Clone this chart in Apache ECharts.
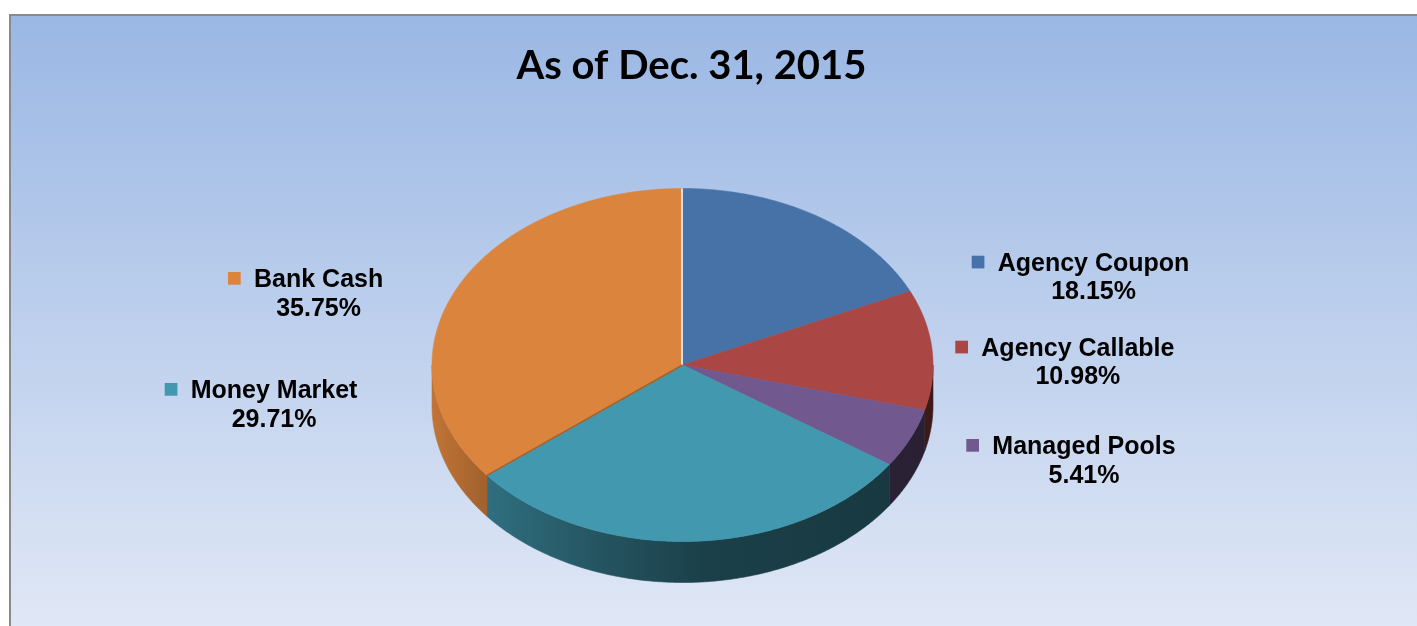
<!DOCTYPE html>
<html>
<head>
<meta charset="utf-8">
<script src="https://cdn.jsdelivr.net/npm/echarts@6/dist/echarts.min.js"></script>
<style>
html,body{margin:0;padding:0;background:#fff;}
#chart{width:1417px;height:626px;}
</style>
</head>
<body>
<div id="chart"></div>
<script>
// ---- data ----
const categories = ['Agency Coupon', 'Agency Callable', 'Managed Pools', 'Money Market', 'Bank Cash'];
const shares = [18.15, 10.98, 5.41, 29.71, 35.75];
const valueLabels = ['18.15%', '10.98%', '5.41%', '29.71%', '35.75%'];
const titleText = 'As of Dec. 31, 2015';

// ---- styles / layout ----
const colors = ['#4672A8', '#AA4643', '#71588F', '#4198AF', '#DB843D'];
const labelLeft = [997.7, 981.3, 992.3, 190.7, 254];
const labelBaseline = [271.7, 356.7, 455, 399, 288];
const PIE = { cx: 682.5, cy: 365, rx: 250.5, ry: 176.5, depth: 41 };
const LABEL_FONT = 'bold 25px "Liberation Sans", Arial, sans-serif';

function hexToRgb(h) {
  h = h.replace('#', '');
  return [parseInt(h.substr(0, 2), 16), parseInt(h.substr(2, 2), 16), parseInt(h.substr(4, 2), 16)];
}
function shade(hex, f) {
  const c = hexToRgb(hex).map(v => Math.max(0, Math.min(255, Math.round(v * f))));
  return 'rgb(' + c.join(',') + ')';
}
const measureCtx = document.createElement('canvas').getContext('2d');
function textWidth(t) { measureCtx.font = LABEL_FONT; return measureCtx.measureText(t).width; }

const total = shares.reduce((a, b) => a + b, 0);
const cumStart = [];
{ let acc = 0; shares.forEach(v => { cumStart.push(acc); acc += v; }); }

function pt(theta, dy) {
  return [PIE.cx + PIE.rx * Math.sin(theta), PIE.cy - PIE.ry * Math.cos(theta) + (dy || 0)];
}

function renderItem(params, api) {
  const i = params.dataIndex;
  const v = api.value(0);
  const a0 = cumStart[i] / total * Math.PI * 2;
  const a1 = a0 + v / total * Math.PI * 2;
  const col = colors[i];
  const children = [];
  const step = Math.PI / 360;

  // side wall (front half only: theta in [90deg, 270deg])
  const s0 = Math.max(a0, Math.PI / 2), s1 = Math.min(a1, Math.PI * 1.5);
  if (s1 > s0) {
    const topPts = [], botPts = [];
    for (let t = s0; t < s1; t += step) { topPts.push(pt(t)); botPts.push(pt(t, PIE.depth)); }
    topPts.push(pt(s1)); botPts.push(pt(s1, PIE.depth));
    const pts = topPts.concat(botPts.reverse());
    const grad = new echarts.graphic.LinearGradient(PIE.cx - PIE.rx, 0, PIE.cx + PIE.rx, 0, [
      { offset: 0, color: shade(col, 0.88) },
      { offset: 0.12, color: shade(col, 0.72) },
      { offset: 0.34, color: shade(col, 0.55) },
      { offset: 0.54, color: shade(col, 0.42) },
      { offset: 1, color: shade(col, 0.36) }
    ], true);
    children.push({ type: 'polygon', z2: 1, shape: { points: pts }, style: { fill: grad, stroke: grad, lineWidth: 0.6 } });
  }

  // top face
  const face = [[PIE.cx, PIE.cy]];
  for (let t = a0; t < a1; t += step) face.push(pt(t));
  face.push(pt(a1));
  children.push({ type: 'polygon', z2: 10, shape: { points: face }, style: { fill: col, stroke: col, lineWidth: 0.6 } });

  // edge highlights
  if (i === 0) {
    const p = pt(a0);
    children.push({ type: 'line', z2: 12, shape: { x1: PIE.cx - 0.5, y1: PIE.cy, x2: p[0] - 0.5, y2: p[1] }, style: { stroke: 'rgba(225,232,245,0.9)', lineWidth: 2 } });
  }
  if (i === shares.length - 1) {
    const p = pt(a0);
    children.push({ type: 'line', z2: 12, shape: { x1: PIE.cx, y1: PIE.cy, x2: p[0], y2: p[1] }, style: { stroke: shade(col, 0.75), lineWidth: 1.5 } });
  }

  // label: marker + name, value centred below
  const name = categories[i];
  const w = textWidth(name);
  const lx = labelLeft[i], by = labelBaseline[i];
  children.push({ type: 'rect', z2: 20, shape: { x: lx - 26, y: by - 16, width: 12.7, height: 12.7 }, style: { fill: col } });
  children.push({ type: 'text', z2: 20, style: { x: lx, y: by - 7.75, text: name, font: LABEL_FONT, fill: '#000', align: 'left', verticalAlign: 'middle' } });
  children.push({ type: 'text', z2: 20, style: { x: lx + w / 2, y: by + 28.6 - 7.75, text: valueLabels[i], font: LABEL_FONT, fill: '#000', align: 'center', verticalAlign: 'middle' } });

  return { type: 'group', children: children };
}

const chart = echarts.init(document.getElementById('chart'), null, { renderer: 'canvas' });
chart.setOption({
  animation: false,
  backgroundColor: '#ffffff',
  graphic: [
    {
      type: 'rect', z: -10,
      shape: { x: 10, y: 15, width: 1420, height: 620 },
      style: {
        fill: new echarts.graphic.LinearGradient(0, 0, 0, 1, [
          { offset: 0, color: '#9AB7E4' },
          { offset: 1, color: '#E1E8F6' }
        ]),
        stroke: '#8a8a8a', lineWidth: 2
      }
    },
    {
      type: 'text', z: 10,
      style: { x: 691.5, y: 66.4, text: titleText, font: 'bold 40px Lato, "Open Sans", sans-serif', fill: '#000', align: 'center', verticalAlign: 'middle' }
    }
  ],
  series: [{
    type: 'custom',
    coordinateSystem: 'none',
    renderItem: renderItem,
    data: shares.map((v, i) => ({ name: categories[i], value: [v] }))
  }]
});
</script>
</body>
</html>
